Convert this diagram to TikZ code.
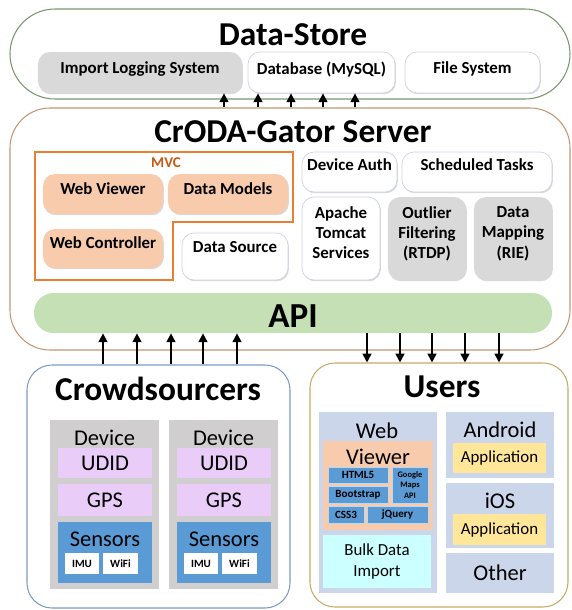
\documentclass[tikz,border=0pt]{standalone}
\usepackage{fontspec}
\setmainfont{Carlito}
\usetikzlibrary{arrows.meta,shadows}

\definecolor{storeline}{RGB}{120,150,110}
\definecolor{serverline}{RGB}{195,150,115}
\definecolor{mvcline}{RGB}{237,125,49}
\definecolor{mvctext}{RGB}{197,90,17}
\definecolor{peach}{RGB}{248,203,173}
\definecolor{softgray}{RGB}{217,217,217}
\definecolor{apigreen}{RGB}{197,224,180}
\definecolor{crowdline}{RGB}{125,155,195}
\definecolor{devgray}{RGB}{208,206,206}
\definecolor{lilac}{RGB}{234,204,248}
\definecolor{sensblue}{RGB}{91,155,213}
\definecolor{userline}{RGB}{200,170,100}
\definecolor{webblue}{RGB}{204,214,234}
\definecolor{bulkcyan}{RGB}{204,255,255}
\definecolor{appyellow}{RGB}{255,230,153}
\definecolor{boxline}{RGB}{205,212,224}

\newcommand{\pxu}{0.02cm}

\tikzset{
	every node/.style={inner sep=0pt},
	span/.style n args={4}{minimum width={((#3)-(#1))*\pxu}, minimum height={((#4)-(#2))*\pxu},
		at={({((#1)+(#3))/2},{((#2)+(#4))/2})}},
	lift/.style={text depth=#1*\pxu},
	head/.style={font=\bfseries\fontsize{19}{22}\selectfont},
	sub/.style={font=\fontsize{12.8}{15}\selectfont},
	frame/.style={draw=#1, line width=0.6pt},
	rbox/.style={draw=boxline, fill=white, rounded corners=0.24cm,
		drop shadow={shadow xshift=0.5pt, shadow yshift=-0.7pt, opacity=0.3, fill=gray},
		font=\bfseries\fontsize{9.6}{11.6}\selectfont, align=center},
	gbox/.style={rbox, draw=none, fill=softgray},
	pbox/.style={rbox, draw=none, fill=peach},
	sq/.style={fill=#1, font=\fontsize{12.8}{15}\selectfont},
	tiny/.style={fill=#1, font=\bfseries\fontsize{6.3}{7}\selectfont},
	arr/.style={-{Triangle[length=5pt,width=5pt]}, line width=1pt}
}

\begin{document}
\begin{tikzpicture}[x=0.02cm, y=-0.02cm]
	%%%%% START %%%%%
	\useasboundingbox (0,0) rectangle (572,610);

	% data store
	\node[frame=storeline, rounded corners=0.9cm, span={10}{9}{570}{99}] (store) {};
	\node[head] (storehead) at (293,35) {Data-Store};
	\node[gbox, lift=9, span={38}{52}{242}{93}] (importlog) {Import Logging System};
	\node[rbox, lift=9, span={248}{52}{395}{93}] (db) {Database (MySQL)};
	\node[rbox, lift=9, span={405}{52}{540}{93}] (files) {File System};

	% server
	\node[frame=serverline, rounded corners=0.8cm, span={10}{108}{570}{350}] (server) {};
	\node[head] (serverhead) at (293,132) {CrODA-Gator Server};

	\draw[mvcline, line width=0.6pt] (35,152) -- (293,152) -- (293,222) -- (173,222) -- (173,280) -- (35,280) -- cycle;
	\node[font=\bfseries\fontsize{8.5}{10}\selectfont, text=mvctext] (mvc) at (166,163) {MVC};
	\node[pbox, lift=10, span={43}{174}{163}{214}] (viewer) {Web Viewer};
	\node[pbox, lift=10, span={168}{174}{288}{214}] (models) {Data Models};
	\node[pbox, lift=11, span={43}{229}{163}{268}] (controller) {Web Controller};
	\node[rbox, lift=19, span={182}{233}{288}{280}] (source) {Data Source};

	\node[rbox, lift=14, span={302}{152}{397}{192}] (auth) {Device Auth};
	\node[rbox, lift=14, span={402}{152}{552}{192}] (tasks) {Scheduled Tasks};
	\node[rbox, lift=12, span={302}{197}{380}{280}] (tomcat) {Apache\\Tomcat\\Services};
	\node[gbox, lift=12, span={388}{197}{466}{280}] (rtdp) {Outlier\\Filtering\\(RTDP)};
	\node[gbox, lift=12, span={474}{197}{552}{280}] (rie) {Data\\Mapping\\(RIE)};

	\node[fill=apigreen, rounded corners=0.39cm, span={34}{293}{552}{333}] (api) {};
	\node[font=\bfseries\fontsize{20}{24}\selectfont] (apitext) at (293,316) {API};

	% crowdsourcers
	\node[frame=crowdline, rounded corners=0.5cm, span={27}{365}{290}{608}] (crowd) {};
	\node[head] (crowdhead) at (158,389) {Crowdsourcers};
	\foreach \dx [count=\i] in {0,119} {
		\node[sq=devgray, span={50+\dx}{420}{159+\dx}{589}] (dev\i) {};
		\node[sub] (devhead\i) at (104.5+\dx,438) {Device};
		\node[sq=lilac, span={58+\dx}{448}{152+\dx}{478}] (udid\i) {UDID};
		\node[sq=lilac, span={58+\dx}{484}{152+\dx}{516}] (gps\i) {GPS};
		\node[sq=sensblue, span={58+\dx}{522}{152+\dx}{583}] (sens\i) {};
		\node[sub] (senshead\i) at (105+\dx,539) {Sensors};
		\node[tiny=white, span={65+\dx}{553}{99+\dx}{574}] (imu\i) {IMU};
		\node[tiny=white, span={103+\dx}{553}{138+\dx}{574}] (wifi\i) {WiFi};
	}

	% users
	\node[frame=userline, rounded corners=0.5cm, span={310}{363}{568}{607}] (users) {};
	\node[head] (usershead) at (442,387) {Users};

	\node[sq=webblue, span={319}{412}{437}{593}] (web) {};
	\node[sub] (webhead) at (377,431) {Web};
	\node[sq=peach, span={323}{441}{433}{530}] (webview) {};
	\node[sub] (webviewhead) at (378,457) {Viewer};
	\node[tiny=sensblue, draw=sensblue!40, span={328}{467}{388}{483}] (html) {HTML5};
	\node[tiny=sensblue, draw=sensblue!40, span={328}{486}{388}{503}] (bootstrap) {Bootstrap};
	\node[tiny=sensblue, draw=sensblue!40, align=center, font=\bfseries\fontsize{4.8}{6.2}\selectfont, span={392}{467}{428}{503}] (gmaps) {Google\\Maps\\API};
	\node[tiny=sensblue, draw=sensblue!40, span={328}{506}{364}{523}] (css) {CSS3};
	\node[tiny=sensblue, draw=sensblue!40, span={367}{506}{428}{523}] (jquery) {jQuery};
	\node[sq=bulkcyan, align=center, font=\fontsize{9.6}{11.5}\selectfont, span={323}{535}{431}{588}] (bulk) {Bulk Data\\Import};

	\node[sq=webblue, span={446}{412}{554}{478}] (android) {};
	\node[sub] (androidhead) at (500,430) {Android};
	\node[sq=appyellow, font=\fontsize{9.6}{11.5}\selectfont, span={453}{443}{546}{473}] (androidapp) {Application};
	\node[sq=webblue, span={446}{483}{554}{548}] (ios) {};
	\node[sub] (ioshead) at (500,501) {iOS};
	\node[sq=appyellow, font=\fontsize{9.6}{11.5}\selectfont, span={453}{514}{546}{545}] (iosapp) {Application};
	\node[sq=webblue, span={446}{553}{554}{593}] (other) {Other};

	% links
	\foreach \x in {224,258,291,323,355}
		\draw[arr] (\x,0 |- server.north) -- (\x,0 |- db.south);
	\foreach \x in {103,137,171,203,237}
		\draw[arr] (\x,0 |- crowd.north) -- (\x,0 |- api.south);
	\foreach \x in {367,400,432,465,499}
		\draw[arr] (\x,0 |- api.south) -- (\x,0 |- users.north);

	%%%%% END %%%%%
\end{tikzpicture}
\end{document}
